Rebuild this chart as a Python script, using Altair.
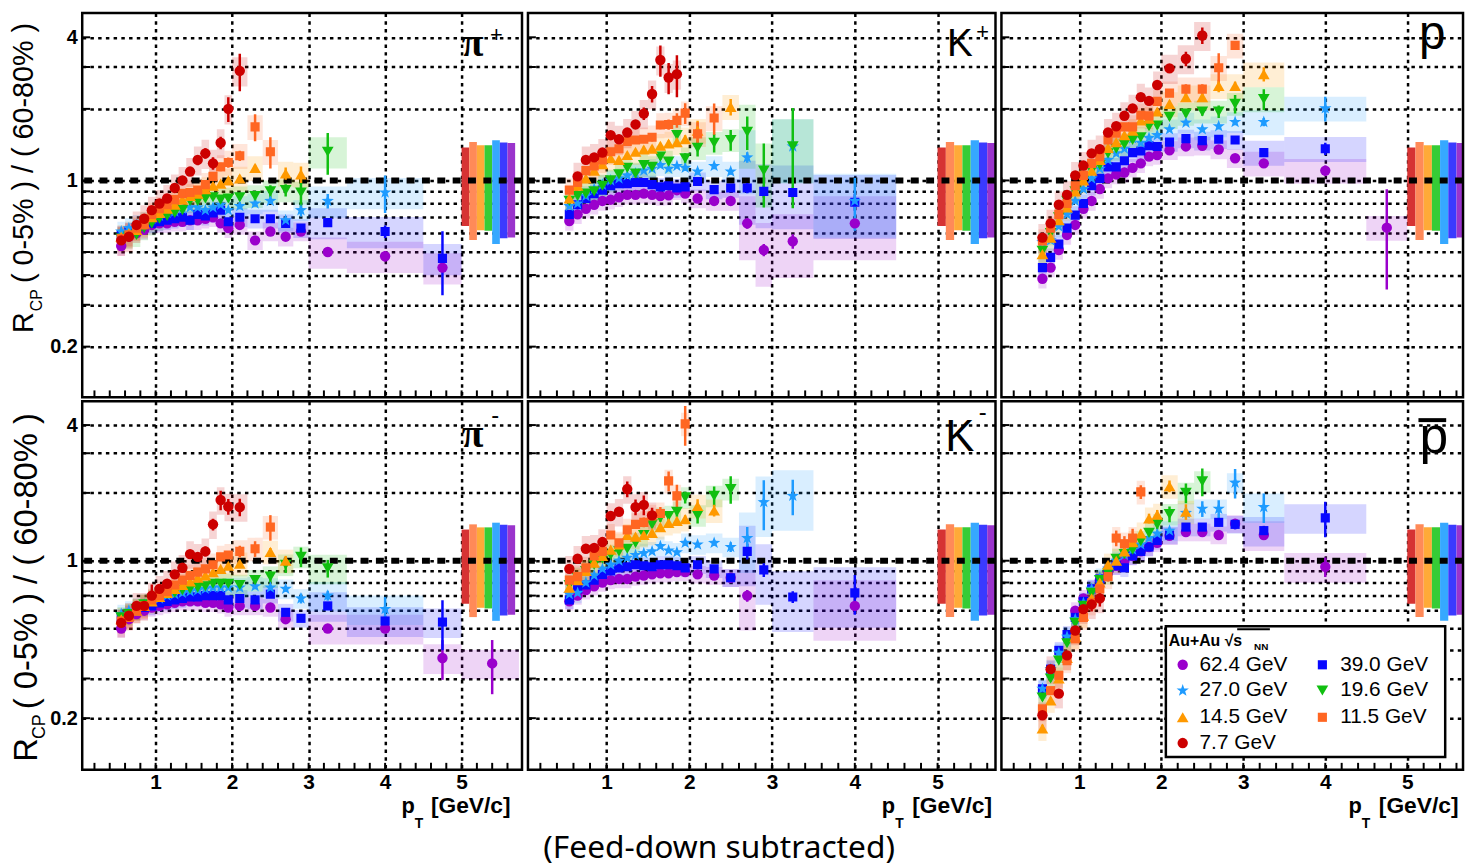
import altair as alt
import pandas as pd

ENERGIES = ["62.4", "39.0", "27.0", "19.6", "14.5", "11.5", "7.7"]
COLORS = ["#9a00cc", "#0808ff", "#1e9bff", "#10bf10", "#ff9900", "#ff6622", "#cc0000"]
STAR = "M0,-1L0.235,-0.324L0.951,-0.309L0.38,0.124L0.588,0.809L0,0.4L-0.588,0.809L-0.38,0.124L-0.951,-0.309L-0.235,-0.324Z"
SHAPES = ["circle", "square", STAR, "triangle-down", "triangle-up", "square", "circle"]
SIZES = [110, 85, 170, 140, 140, 85, 110]
SYS_REL = [0.09, 0.09, 0.10, 0.11, 0.12, 0.12, 0.14]

NORM_COLORS = ["#d63333", "#ff8a58", "#ffaa38", "#36cc36", "#36a8ff", "#3a3aff", "#9a34cc"]
NORM_X0 = [5.0, 5.1, 5.2, 5.3, 5.4, 5.5, 5.6]
NORM_LO = [0.644, 0.562, 0.618, 0.614, 0.541, 0.571, 0.576]
NORM_HI = [1.375, 1.45, 1.406, 1.406, 1.475, 1.443, 1.438]

BIN_EDGES = [0.5, 0.6, 0.7, 0.8, 0.9, 1.0, 1.1, 1.2, 1.3, 1.4, 1.5, 1.6, 1.7, 1.8, 1.9,
             2.0, 2.2, 2.4, 2.6, 2.8, 3.0, 3.5, 4.5, 5.0, 5.75]
GRID_Y = [0.2, 0.3, 0.4, 0.5, 0.6, 0.7, 0.8, 0.9, 1, 2, 3, 4]
GRID_X = [1, 2, 3, 4, 5]
XTICKS = [0.2, 0.4, 0.6, 0.8, 1.0, 1.2, 1.4, 1.6, 1.8, 2.0, 2.2, 2.4, 2.6, 2.8, 3.0,
          3.2, 3.4, 3.6, 3.8, 4.0, 4.2, 4.4, 4.6, 4.8, 5.0, 5.2, 5.4, 5.6]

# (pT, R_CP, relative stat. error)
PIP = {
    "62.4": [(0.55,.53,.02),(0.65,.58,.02),(0.75,.60,.02),(0.85,.62,.02),(0.95,.65,.02),(1.05,.66,.02),(1.15,.66,.02),(1.25,.67,.02),(1.35,.67,.02),(1.45,.68,.02),(1.55,.68,.02),(1.65,.69,.02),(1.75,.70,.02),(1.85,.66,.02),(1.95,.63,.02),(2.1,.65,.03),(2.3,.56,.03),(2.5,.61,.03),(2.7,.58,.03),(2.9,.61,.03),(3.25,.50,.03),(4.0,.48,.05),(4.75,.43,.04)],
    "39.0": [(0.55,.59,.02),(0.65,.61,.02),(0.75,.63,.02),(0.85,.65,.02),(0.95,.66,.02),(1.05,.67,.02),(1.15,.68,.02),(1.25,.69,.02),(1.35,.70,.02),(1.45,.68,.02),(1.55,.72,.02),(1.65,.71,.02),(1.75,.73,.02),(1.85,.75,.02),(1.95,.67,.02),(2.1,.70,.03),(2.3,.69,.03),(2.5,.69,.03),(2.7,.66,.03),(2.9,.63,.03),(3.25,.665,.03),(4.0,.61,.06),(4.75,.47,.30)],
    "27.0": [(0.55,.61,.02),(0.65,.63,.02),(0.75,.65,.02),(0.85,.67,.02),(0.95,.69,.02),(1.05,.71,.02),(1.15,.73,.02),(1.25,.74,.02),(1.35,.76,.02),(1.45,.77,.02),(1.55,.77,.02),(1.65,.75,.02),(1.75,.77,.02),(1.85,.79,.02),(1.95,.75,.02),(2.1,.78,.03),(2.3,.80,.03),(2.5,.82,.03),(2.7,.68,.03),(2.9,.75,.06),(3.25,.82,.07),(4.0,.89,.18)],
    "19.6": [(0.55,.57,.02),(0.65,.58,.02),(0.75,.59,.02),(0.85,.63,.02),(0.95,.66,.02),(1.05,.69,.02),(1.15,.71,.02),(1.25,.73,.02),(1.35,.75,.02),(1.45,.82,.02),(1.55,.82,.02),(1.65,.84,.02),(1.75,.85,.02),(1.85,.83,.02),(1.95,.84,.03),(2.1,.85,.03),(2.3,.86,.04),(2.5,.90,.06),(2.7,.91,.06),(2.9,.89,.13),(3.25,1.32,.20)],
    "14.5": [(0.55,.58,.02),(0.65,.60,.02),(0.75,.62,.02),(0.85,.66,.02),(0.95,.70,.02),(1.05,.73,.02),(1.15,.76,.02),(1.25,.79,.02),(1.35,.83,.02),(1.45,.86,.02),(1.55,.88,.02),(1.65,.92,.02),(1.75,.95,.02),(1.85,.97,.02),(1.95,1.0,.03),(2.1,1.02,.03),(2.3,1.13,.03),(2.7,1.07,.06),(2.9,1.06,.08)],
    "11.5": [(0.55,.57,.02),(0.65,.59,.02),(0.75,.63,.02),(0.85,.65,.02),(0.95,.72,.02),(1.05,.76,.02),(1.15,.79,.02),(1.25,.83,.02),(1.35,.88,.02),(1.45,.89,.02),(1.55,.91,.02),(1.65,.96,.03),(1.75,1.04,.03),(1.85,1.14,.04),(1.95,1.19,.05),(2.1,1.27,.05),(2.3,1.68,.13),(2.5,1.32,.15)],
    "7.7": [(0.55,.56,.03),(0.65,.58,.03),(0.75,.65,.03),(0.85,.69,.03),(0.95,.75,.03),(1.05,.80,.03),(1.15,.84,.03),(1.25,.93,.03),(1.35,1.0,.03),(1.45,1.09,.04),(1.55,1.22,.05),(1.65,1.30,.05),(1.75,1.18,.06),(1.85,1.44,.06),(1.95,2.0,.12),(2.1,2.89,.18)],
}
KP = {
    "62.4": [(0.55,.675,.02),(0.65,.72,.02),(0.75,.76,.02),(0.85,.79,.02),(0.95,.82,.02),(1.05,.83,.02),(1.15,.85,.02),(1.25,.87,.02),(1.35,.87,.02),(1.45,.88,.02),(1.55,.87,.02),(1.65,.86,.02),(1.75,.865,.02),(1.85,.91,.02),(1.95,.88,.02),(2.1,.84,.03),(2.3,.82,.03),(2.5,.82,.03),(2.7,.66,.05),(2.9,.51,.06),(3.25,.555,.07),(4.0,.66,.05)],
    "39.0": [(0.55,.72,.02),(0.65,.79,.02),(0.75,.84,.02),(0.85,.88,.02),(0.95,.91,.02),(1.05,.95,.02),(1.15,.97,.02),(1.25,.97,.02),(1.35,.98,.02),(1.45,.98,.02),(1.55,.96,.02),(1.65,.94,.02),(1.75,.95,.02),(1.85,.93,.02),(1.95,.94,.02),(2.1,.99,.03),(2.3,.915,.03),(2.5,.93,.03),(2.7,.93,.05),(2.9,.90,.06),(3.25,.89,.05),(4.0,.81,.08)],
    "27.0": [(0.55,.78,.02),(0.65,.80,.02),(0.75,.86,.02),(0.85,.92,.02),(0.95,.96,.02),(1.05,1.0,.02),(1.15,1.02,.02),(1.25,1.05,.02),(1.35,1.07,.02),(1.45,1.10,.02),(1.55,1.12,.02),(1.65,1.16,.02),(1.75,1.12,.02),(1.85,1.15,.02),(1.95,1.13,.03),(2.1,1.09,.03),(2.3,1.15,.03),(2.5,1.09,.03),(2.7,1.25,.05),(3.25,1.39,.06),(4.0,.82,.25)],
    "19.6": [(0.55,.82,.02),(0.65,.86,.02),(0.75,.88,.02),(0.85,.90,.02),(0.95,.95,.02),(1.05,1.0,.02),(1.15,1.06,.02),(1.25,1.13,.03),(1.35,1.07,.03),(1.45,1.16,.03),(1.55,1.14,.03),(1.65,1.26,.03),(1.75,1.20,.03),(1.85,1.55,.04),(1.95,1.24,.05),(2.1,1.37,.08),(2.3,1.44,.09),(2.5,1.48,.10),(2.7,1.60,.16),(2.9,1.10,.30),(3.25,1.39,.45)],
    "14.5": [(0.55,.84,.02),(0.65,.95,.02),(0.75,1.02,.02),(0.85,1.10,.02),(0.95,1.17,.02),(1.05,1.24,.02),(1.15,1.22,.02),(1.25,1.28,.02),(1.35,1.32,.02),(1.45,1.35,.03),(1.55,1.36,.03),(1.65,1.40,.03),(1.75,1.43,.03),(1.85,1.45,.03),(1.95,1.49,.04),(2.1,1.62,.10),(2.5,2.04,.08)],
    "11.5": [(0.55,.91,.02),(0.65,.98,.02),(0.75,1.10,.02),(0.85,1.15,.02),(0.95,1.22,.02),(1.05,1.32,.02),(1.15,1.36,.03),(1.25,1.46,.03),(1.35,1.48,.03),(1.45,1.49,.03),(1.55,1.52,.04),(1.65,1.71,.04),(1.75,1.72,.05),(1.85,1.79,.07),(1.95,1.92,.10),(2.1,1.57,.12),(2.3,1.83,.15)],
    "7.7": [(0.65,1.04,.03),(0.75,1.22,.03),(0.85,1.25,.03),(0.95,1.31,.03),(1.05,1.55,.03),(1.15,1.49,.03),(1.25,1.59,.03),(1.35,1.72,.04),(1.45,1.91,.06),(1.55,2.31,.08),(1.65,3.21,.15),(1.75,2.71,.15),(1.85,2.80,.20)],
}
PP = {
    "62.4": [(0.55,.386,.02),(0.65,.43,.02),(0.75,.51,.02),(0.85,.59,.02),(0.95,.65,.02),(1.05,.76,.02),(1.15,.82,.02),(1.25,.92,.02),(1.35,1.02,.02),(1.45,1.06,.02),(1.55,1.08,.02),(1.65,1.13,.02),(1.75,1.18,.02),(1.85,1.26,.02),(1.95,1.28,.02),(2.1,1.34,.02),(2.3,1.39,.02),(2.5,1.40,.02),(2.7,1.35,.02),(2.9,1.24,.03),(3.25,1.18,.03),(4.0,1.10,.05),(4.75,.633,.45)],
    "39.0": [(0.55,.43,.02),(0.65,.475,.02),(0.75,.54,.02),(0.85,.63,.02),(0.95,.715,.02),(1.05,.80,.02),(1.15,.95,.02),(1.25,1.02,.02),(1.35,1.14,.02),(1.45,1.14,.02),(1.55,1.21,.02),(1.65,1.31,.02),(1.75,1.33,.02),(1.85,1.40,.02),(1.95,1.39,.02),(2.1,1.45,.02),(2.3,1.50,.02),(2.5,1.47,.02),(2.7,1.49,.02),(2.9,1.48,.03),(3.25,1.31,.03),(4.0,1.36,.06)],
    "27.0": [(0.55,.55,.02),(0.65,.56,.02),(0.75,.64,.02),(0.85,.72,.02),(0.95,.82,.02),(1.05,.92,.02),(1.15,1.02,.02),(1.25,1.12,.02),(1.35,1.22,.02),(1.45,1.30,.02),(1.55,1.36,.02),(1.65,1.50,.02),(1.75,1.44,.02),(1.85,1.51,.02),(1.95,1.55,.02),(2.1,1.64,.02),(2.3,1.75,.02),(2.5,1.64,.02),(2.7,1.69,.03),(2.9,1.76,.03),(3.25,1.76,.04),(4.0,2.01,.12)],
    "19.6": [(0.55,.506,.02),(0.65,.60,.02),(0.75,.70,.02),(0.85,.82,.02),(0.95,.90,.02),(1.05,1.0,.02),(1.15,1.10,.02),(1.25,1.16,.02),(1.35,1.30,.02),(1.45,1.36,.02),(1.55,1.42,.02),(1.65,1.48,.02),(1.75,1.52,.02),(1.85,1.69,.02),(1.95,1.70,.03),(2.1,1.85,.03),(2.3,1.91,.03),(2.5,1.95,.04),(2.7,1.95,.06),(2.9,2.10,.09),(3.25,2.20,.10)],
    "14.5": [(0.55,.49,.02),(0.65,.575,.02),(0.75,.68,.02),(0.85,.77,.02),(0.95,.90,.02),(1.05,1.0,.02),(1.15,1.10,.02),(1.25,1.22,.02),(1.35,1.37,.02),(1.45,1.45,.02),(1.55,1.55,.02),(1.65,1.62,.02),(1.75,1.79,.02),(1.85,1.82,.02),(1.95,1.95,.03),(2.1,2.10,.03),(2.3,2.24,.03),(2.5,2.24,.03),(2.7,2.5,.06),(2.9,2.5,.04),(3.25,2.8,.07)],
    "11.5": [(0.55,.557,.02),(0.65,.63,.02),(0.75,.72,.02),(0.85,.80,.02),(0.95,.95,.02),(1.05,1.05,.02),(1.15,1.18,.02),(1.25,1.26,.02),(1.35,1.48,.02),(1.45,1.58,.02),(1.55,1.68,.02),(1.65,1.68,.02),(1.75,1.88,.02),(1.85,1.87,.02),(1.95,2.15,.03),(2.1,2.33,.03),(2.3,2.42,.05),(2.5,2.42,.05),(2.7,2.98,.15),(2.9,3.70,.03)],
    "7.7": [(0.55,.575,.02),(0.65,.66,.02),(0.75,.79,.02),(0.85,.87,.02),(0.95,1.05,.02),(1.05,1.155,.02),(1.15,1.30,.02),(1.25,1.355,.02),(1.35,1.59,.02),(1.45,1.69,.02),(1.55,1.87,.02),(1.65,2.01,.02),(1.75,2.24,.02),(1.85,2.16,.02),(1.95,2.52,.03),(2.1,2.96,.04),(2.3,3.25,.07),(2.5,4.07,.08)],
}
PIM = {
    "62.4": [(0.55,.50,.02),(0.65,.55,.02),(0.75,.58,.02),(0.85,.60,.02),(0.95,.62,.02),(1.05,.63,.02),(1.15,.64,.02),(1.25,.65,.02),(1.35,.66,.02),(1.45,.66,.02),(1.55,.66,.02),(1.65,.65,.02),(1.75,.65,.02),(1.85,.64,.02),(1.95,.62,.02),(2.1,.63,.03),(2.3,.63,.03),(2.5,.62,.03),(2.7,.55,.03),(3.25,.50,.03),(4.0,.50,.04),(4.75,.37,.20),(5.4,.35,.27)],
    "39.0": [(0.55,.56,.02),(0.65,.58,.02),(0.75,.60,.02),(0.85,.62,.02),(0.95,.63,.02),(1.05,.65,.02),(1.15,.66,.02),(1.25,.67,.02),(1.35,.68,.02),(1.45,.69,.02),(1.55,.69,.02),(1.65,.70,.02),(1.75,.70,.02),(1.85,.70,.02),(1.95,.67,.02),(2.1,.68,.03),(2.3,.67,.03),(2.5,.71,.03),(2.7,.59,.03),(2.9,.555,.03),(3.25,.63,.04),(4.0,.54,.05),(4.75,.534,.25)],
    "27.0": [(0.55,.58,.02),(0.65,.60,.02),(0.75,.62,.02),(0.85,.64,.02),(0.95,.66,.02),(1.05,.68,.02),(1.15,.70,.02),(1.25,.71,.02),(1.35,.72,.02),(1.45,.73,.02),(1.55,.74,.02),(1.65,.75,.02),(1.75,.76,.02),(1.85,.76,.02),(1.95,.76,.02),(2.1,.76,.03),(2.3,.77,.03),(2.5,.76,.03),(2.7,.75,.03),(2.9,.68,.05),(3.25,.70,.05),(4.0,.61,.13)],
    "19.6": [(0.55,.56,.02),(0.65,.58,.02),(0.75,.61,.02),(0.85,.64,.02),(0.95,.67,.02),(1.05,.69,.02),(1.15,.71,.02),(1.25,.72,.02),(1.35,.74,.02),(1.45,.75,.02),(1.55,.76,.02),(1.65,.77,.02),(1.75,.79,.02),(1.85,.79,.02),(1.95,.79,.02),(2.1,.78,.03),(2.3,.82,.03),(2.5,.85,.06),(2.7,.96,.08),(2.9,1.04,.10),(3.25,.925,.09)],
    "14.5": [(0.55,.55,.02),(0.65,.57,.02),(0.75,.60,.02),(0.85,.63,.02),(0.95,.66,.02),(1.05,.69,.02),(1.15,.72,.02),(1.25,.75,.02),(1.35,.78,.02),(1.45,.81,.02),(1.55,.84,.02),(1.65,.86,.02),(1.75,.89,.02),(1.85,.92,.02),(1.95,.95,.02),(2.1,.97,.03),(2.5,1.095,.04),(2.7,1.0,.05)],
    "11.5": [(0.55,.54,.02),(0.65,.56,.02),(0.75,.60,.02),(0.85,.63,.02),(0.95,.67,.02),(1.05,.70,.02),(1.15,.73,.02),(1.25,.78,.02),(1.35,.82,.02),(1.45,.86,.02),(1.55,.89,.02),(1.65,.92,.02),(1.75,.96,.03),(1.85,1.04,.03),(1.95,1.06,.04),(2.1,1.10,.06),(2.3,1.13,.08),(2.5,1.41,.13)],
    "7.7": [(0.55,.53,.03),(0.65,.57,.03),(0.75,.63,.03),(0.85,.63,.03),(0.95,.70,.12),(1.05,.75,.03),(1.15,.79,.03),(1.25,.87,.03),(1.35,.93,.03),(1.45,1.07,.04),(1.55,1.04,.04),(1.65,1.10,.05),(1.75,1.45,.06),(1.85,1.86,.10),(1.95,1.74,.08),(2.1,1.73,.09)],
}
KM = {
    "62.4": [(0.55,.66,.02),(0.65,.70,.02),(0.75,.74,.02),(0.85,.77,.02),(0.95,.80,.02),(1.05,.82,.02),(1.15,.83,.02),(1.25,.83,.02),(1.35,.85,.02),(1.45,.86,.02),(1.55,.87,.02),(1.65,.88,.02),(1.75,.88,.02),(1.85,.89,.02),(1.95,.89,.02),(2.1,.87,.02),(2.3,.86,.03),(2.5,.84,.03),(2.7,.70,.06),(4.0,.63,.08)],
    "39.0": [(0.55,.67,.02),(0.65,.75,.02),(0.75,.78,.02),(0.85,.82,.02),(0.95,.87,.02),(1.05,.90,.02),(1.15,.93,.02),(1.25,.94,.02),(1.35,.96,.02),(1.45,.95,.02),(1.55,.94,.02),(1.65,.96,.02),(1.75,.96,.02),(1.85,.95,.02),(1.95,.93,.02),(2.1,.96,.03),(2.3,.92,.03),(2.5,.84,.04),(2.7,1.10,.08),(2.9,.91,.07),(3.25,.69,.06),(4.0,.72,.20)],
    "27.0": [(0.55,.71,.02),(0.65,.72,.02),(0.75,.80,.02),(0.85,.86,.02),(0.95,.92,.02),(1.05,.96,.02),(1.15,1.0,.02),(1.25,1.03,.02),(1.35,1.06,.02),(1.45,1.08,.02),(1.55,1.10,.02),(1.65,1.16,.02),(1.75,1.11,.02),(1.85,1.09,.02),(1.95,1.20,.03),(2.1,1.18,.03),(2.3,1.20,.03),(2.5,1.15,.05),(2.7,1.26,.12),(2.9,1.82,.25),(3.25,1.94,.18)],
    "19.6": [(0.55,.78,.02),(0.65,.84,.02),(0.75,.90,.02),(0.85,.96,.02),(0.95,1.02,.02),(1.05,1.06,.02),(1.15,1.10,.02),(1.25,1.13,.02),(1.35,1.20,.03),(1.45,1.30,.03),(1.55,1.45,.03),(1.65,1.55,.04),(1.75,1.58,.04),(1.85,1.65,.05),(1.95,1.91,.06),(2.1,1.59,.08),(2.3,1.94,.10),(2.5,2.08,.14)],
    "14.5": [(0.55,.76,.02),(0.65,.82,.02),(0.75,.90,.02),(0.85,.98,.02),(0.95,1.05,.02),(1.05,1.12,.02),(1.15,1.18,.02),(1.25,1.30,.03),(1.35,1.28,.03),(1.45,1.30,.03),(1.55,1.33,.03),(1.65,1.41,.03),(1.75,1.47,.04),(1.85,1.50,.04),(1.95,1.53,.04),(2.1,1.75,.07),(2.3,1.67,.06)],
    "11.5": [(0.55,.82,.02),(0.65,.85,.02),(0.75,.93,.02),(0.85,1.05,.02),(0.95,1.10,.03),(1.05,1.30,.03),(1.15,1.20,.03),(1.25,1.37,.04),(1.35,1.45,.04),(1.45,1.48,.05),(1.55,1.58,.06),(1.65,1.62,.07),(1.75,2.26,.10),(1.85,1.94,.12),(1.95,4.05,.20)],
    "7.7": [(0.55,.92,.03),(0.65,1.02,.03),(0.75,1.13,.03),(0.85,1.14,.03),(0.95,1.21,.03),(1.05,1.58,.04),(1.15,1.65,.04),(1.25,2.08,.08),(1.35,1.73,.08),(1.45,1.77,.10),(1.55,1.59,.08)],
}
PBAR = {
    "62.4": [(0.95,.60,.02),(1.05,.68,.02),(1.15,.75,.02),(1.25,.82,.02),(1.35,.89,.02),(1.45,.95,.02),(1.55,1.0,.02),(1.65,1.05,.02),(1.75,1.10,.02),(1.85,1.15,.02),(1.95,1.20,.02),(2.1,1.29,.02),(2.3,1.34,.02),(2.5,1.34,.03),(2.7,1.30,.03),(2.9,1.46,.05),(3.25,1.30,.04),(4.0,.94,.10)],
    "39.0": [(0.55,.27,.02),(0.65,.33,.02),(0.75,.40,.02),(0.85,.47,.02),(0.95,.56,.02),(1.05,.66,.02),(1.15,.75,.02),(1.25,.83,.02),(1.35,.90,.02),(1.45,.95,.02),(1.55,.93,.02),(1.65,1.05,.02),(1.75,1.10,.02),(1.85,1.15,.02),(1.95,1.23,.02),(2.1,1.30,.02),(2.3,1.41,.03),(2.5,1.41,.03),(2.7,1.48,.04),(2.9,1.45,.05),(3.25,1.36,.05),(4.0,1.55,.18)],
    "27.0": [(0.55,.27,.03),(0.65,.33,.02),(0.75,.39,.02),(0.85,.46,.02),(0.95,.55,.02),(1.05,.65,.02),(1.15,.75,.02),(1.25,.84,.02),(1.35,.92,.02),(1.45,1.0,.02),(1.55,1.06,.02),(1.65,1.12,.02),(1.75,1.18,.02),(1.85,1.26,.02),(1.95,1.32,.02),(2.1,1.36,.03),(2.3,1.63,.05),(2.5,1.70,.08),(2.7,1.70,.09),(2.9,2.22,.15),(3.25,1.73,.15)],
    "19.6": [(0.55,.247,.03),(0.65,.30,.03),(0.75,.36,.02),(0.85,.43,.02),(0.95,.53,.02),(1.05,.63,.02),(1.15,.72,.02),(1.25,.82,.02),(1.35,.88,.02),(1.45,1.02,.02),(1.55,1.07,.02),(1.65,1.12,.03),(1.75,1.22,.03),(1.85,1.33,.04),(1.95,1.45,.05),(2.1,1.61,.08),(2.3,2.0,.10),(2.5,2.25,.14)],
    "14.5": [(0.55,.18,.04),(0.65,.24,.03),(0.75,.30,.03),(0.85,.37,.02),(0.95,.46,.02),(1.05,.57,.02),(1.15,.68,.02),(1.25,.80,.03),(1.35,.96,.03),(1.45,1.0,.03),(1.55,1.10,.03),(1.65,1.21,.04),(1.75,1.32,.04),(1.85,1.54,.05),(1.95,1.60,.05),(2.1,2.14,.06),(2.3,1.65,.08)],
    "11.5": [(0.55,.22,.03),(0.65,.265,.03),(0.75,.31,.03),(0.85,.36,.03),(0.95,.45,.03),(1.05,.56,.03),(1.15,.65,.03),(1.25,.75,.04),(1.35,.85,.05),(1.45,1.26,.08),(1.55,1.19,.08),(1.65,1.26,.10),(1.75,2.02,.07)],
    "7.7": [(0.55,.206,.04),(0.65,.33,.04),(0.75,.257,.04),(0.85,.38,.04),(0.95,.49,.04),(1.05,.61,.05),(1.15,.64,.07),(1.25,.68,.08)],
}

FONT = "Liberation Sans"
ONE = pd.DataFrame({"one": [1.0]})


def make_df(panel, hi_sys, hi_from):
    rows = []
    for i, e in enumerate(ENERGIES):
        for pt, r, se in panel[e]:
            j = max(k for k in range(len(BIN_EDGES) - 1) if BIN_EDGES[k] < pt)
            s = hi_sys if pt >= hi_from else SYS_REL[i]
            rows.append(dict(energy=e, order=i, pt=pt, r=r, lo=r * (1 - se), hi=r * (1 + se),
                             x0=BIN_EDGES[j], x1=BIN_EDGES[j + 1], s0=r * (1 - s), s1=r * (1 + s),
                             color=COLORS[i], shape=SHAPES[i], msize=SIZES[i]))
    return pd.DataFrame(rows)


NORM_DF = pd.DataFrame({"x0": NORM_X0, "x1": [v + 0.1 for v in NORM_X0],
                        "lo": NORM_LO, "hi": NORM_HI, "c": NORM_COLORS})


def txt(s, x, y, size, font=FONT, weight="normal", align="center", baseline="alphabetic", angle=None):
    props = dict(text=s, font=font, fontSize=size, fontWeight=weight, align=align,
                 baseline=baseline, color="black")
    if angle is not None:
        props["angle"] = angle
    return alt.Chart(ONE).mark_text(**props).encode(x=alt.value(x), y=alt.value(y))


def hline(x1, x2, y, w=3):
    return alt.Chart(ONE).mark_rule(color="black", strokeWidth=w).encode(
        x=alt.value(x1), x2=alt.value(x2), y=alt.value(y))


def spacer(x1, x2, y1, y2):
    return alt.Chart(ONE).mark_rect(opacity=0).encode(
        x=alt.value(x1), x2=alt.value(x2), y=alt.value(y1), y2=alt.value(y2))


LABEL_EXPR = ("datum.value == 4 ? '4' : datum.value == 1 ? '1' : "
              "(datum.value > 0.19 && datum.value < 0.21) ? '0.2' : ''")


def panel(data, w, h, xdom, ydom, row, col, hi_sys, hi_from, extras):
    df = make_df(data, hi_sys, hi_from)
    xs = alt.Scale(domain=xdom, nice=False, zero=False)
    ys = alt.Scale(type="log", domain=ydom, nice=False)
    grid = dict(grid=True, gridColor="black", gridDash=[3.5, 4.3], gridWidth=2.5, gridOpacity=1,
                ticks=False, domain=False, title=None, labelOverlap=False)
    xaxis = alt.Axis(values=GRID_X, labels=(row == 1), labelFont=FONT, labelFontSize=21,
                     labelFontWeight="bold", labelColor="black", labelPadding=2, format="d",
                     labelFlush=False, **grid)
    yaxis = alt.Axis(values=GRID_Y, labels=(col == 0), labelFont=FONT, labelFontSize=20,
                     labelFontWeight="bold", labelColor="black", labelPadding=5,
                     labelExpr=LABEL_EXPR, **grid)

    def X(f):
        return alt.X(f, scale=xs, axis=xaxis)

    def Y(f):
        return alt.Y(f, scale=ys, axis=yaxis)

    boxes = alt.Chart(df).mark_rect(opacity=0.17, clip=True).encode(
        x=X("x0:Q"), x2="x1:Q", y=Y("s0:Q"), y2="s1:Q",
        color=alt.Color("color:N", scale=None))
    norm = alt.Chart(NORM_DF).mark_rect(clip=True).encode(
        x=X("x0:Q"), x2="x1:Q", y=Y("lo:Q"), y2="hi:Q",
        color=alt.Color("c:N", scale=None))
    unity = alt.Chart(ONE).mark_rule(color="black", strokeWidth=6, strokeDash=[8, 7.5]).encode(
        y=Y("one:Q"))
    errs = alt.Chart(df).mark_rule(strokeWidth=2.5, clip=True).encode(
        x=X("pt:Q"), y=Y("lo:Q"), y2="hi:Q",
        color=alt.Color("color:N", scale=None))
    pts = alt.Chart(df).mark_point(filled=True, opacity=1, clip=True).encode(
        x=X("pt:Q"), y=Y("r:Q"),
        color=alt.Color("color:N", scale=None),
        shape=alt.Shape("shape:N", scale=None),
        size=alt.Size("msize:Q", scale=None))
    xt = alt.Chart(pd.DataFrame({"t": XTICKS})).mark_rule(color="black", strokeWidth=2).encode(
        x=X("t:Q"), y=alt.value(h), y2=alt.value(h - 7))
    yt = alt.Chart(pd.DataFrame({"t": GRID_Y})).mark_rule(color="black", strokeWidth=2).encode(
        y=Y("t:Q"), x=alt.value(0), x2=alt.value(8))
    frame = alt.Chart(ONE).mark_rect(fillOpacity=0, stroke="black", strokeWidth=2.5).encode(
        x=alt.value(0), x2=alt.value(w), y=alt.value(0), y2=alt.value(h))
    return alt.layer(boxes, norm, unity, errs, pts, xt, yt, *extras, frame).properties(width=w, height=h)


def pt_title(w, p_off, t_off, b_off):
    return [txt("p", w - p_off, 416, 22, weight="bold"),
            txt("T", w - t_off, 431, 14, weight="bold"),
            txt("[GeV/c]", w - b_off, 416, 23, weight="bold", align="left")]


def ytitle(row):
    if row == 0:
        return [txt("R", -50, 323, 29, align="left", angle=270),
                txt("CP", -41, 301, 16, align="left", angle=270),
                txt("( 0-5% ) / ( 60-80% )", -50, 10, 29, align="right", angle=270)]
    return [txt("R", -46, 364, 33, align="left", angle=270),
            txt("CP", -38, 341, 18, align="left", angle=270),
            txt("( 0-5% ) / ( 60-80% )", -46, 12, 33, align="right", angle=270)]


def legend():
    items = [alt.Chart(ONE).mark_rect(fill="white", stroke="black", strokeWidth=2.5).encode(
        x=alt.value(166), x2=alt.value(448), y=alt.value(227), y2=alt.value(359)),
        txt("Au+Au \u221as", 169, 247, 16, weight="bold", align="left"),
        txt("NN", 255, 251, 10, weight="bold", align="left"),
        hline(238, 271, 230, 2)]
    rows_y = [266, 292, 319, 345]
    for i, e in enumerate(ENERGIES):
        c, r = i % 2, i // 2
        mx = 183 if c == 0 else 324
        tx = 200 if c == 0 else 342
        items.append(alt.Chart(ONE).mark_point(filled=True, opacity=1, shape=SHAPES[i],
                                               size=SIZES[i], color=COLORS[i]).encode(
            x=alt.value(mx), y=alt.value(rows_y[r])))
        items.append(txt(e + " GeV", tx, rows_y[r], 21, align="left", baseline="middle"))
    return items


TOP_Y = [0.1224, 5.06]
BOT_Y = [0.118, 5.10]

tl = panel(PIP, 444, 388, [0.04, 5.79], TOP_Y, 0, 0, 0.15, 3.0,
           ytitle(0) + [spacer(-83, -82, -9, -8),
                        txt("\u03c0", 444 - 50, 43, 40, font="Liberation Serif", weight="bold"),
                        txt("+", 444 - 26, 29, 22)])
tm = panel(KP, 472, 388, [0.05, 5.70], TOP_Y, 0, 1, 0.30, 2.6,
           [txt("K", 472 - 36, 43, 39), txt("+", 472 - 13, 26, 22)])
tr = panel(PP, 466, 388, [0.05, 5.68], TOP_Y, 0, 2, 0.12, 3.0,
           [txt("p", 466 - 31, 36, 48)])
bl = panel(PIM, 444, 372, [0.04, 5.79], BOT_Y, 1, 0, 0.15, 3.0,
           ytitle(1) + [spacer(-83, -82, 0, 1),
                        txt("\u03c0", 444 - 50, 46, 40, font="Liberation Serif", weight="bold"),
                        txt("-", 444 - 27, 22, 24)] + pt_title(444, 115, 104, 92))
bm = panel(KM, 472, 372, [0.05, 5.70], BOT_Y, 1, 1, 0.30, 2.6,
           [txt("K", 472 - 36, 50, 44), txt("-", 472 - 13, 19, 24),
            txt("(Feed-down subtracted)", 193, 461, 32, font="Noto Sans")] + pt_title(472, 108, 97, 84))
br = panel(PBAR, 466, 372, [0.05, 5.68], BOT_Y, 1, 2, 0.15, 3.0,
           [txt("p", 466 - 29.5, 52, 52), hline(466 - 45, 466 - 17, 19, 4)]
           + pt_title(466, 109, 98, 85) + legend())

chart = alt.vconcat(
    alt.hconcat(tl, tm, tr, spacing=0),
    alt.hconcat(bl, bm, br, spacing=0),
    spacing=0,
).properties(
    padding={"left": 0, "top": 0, "right": 0, "bottom": 0}
).configure(background="white").configure_view(strokeWidth=0)

chart.save("out.html", embed_options={"renderer": "svg", "actions": False})
